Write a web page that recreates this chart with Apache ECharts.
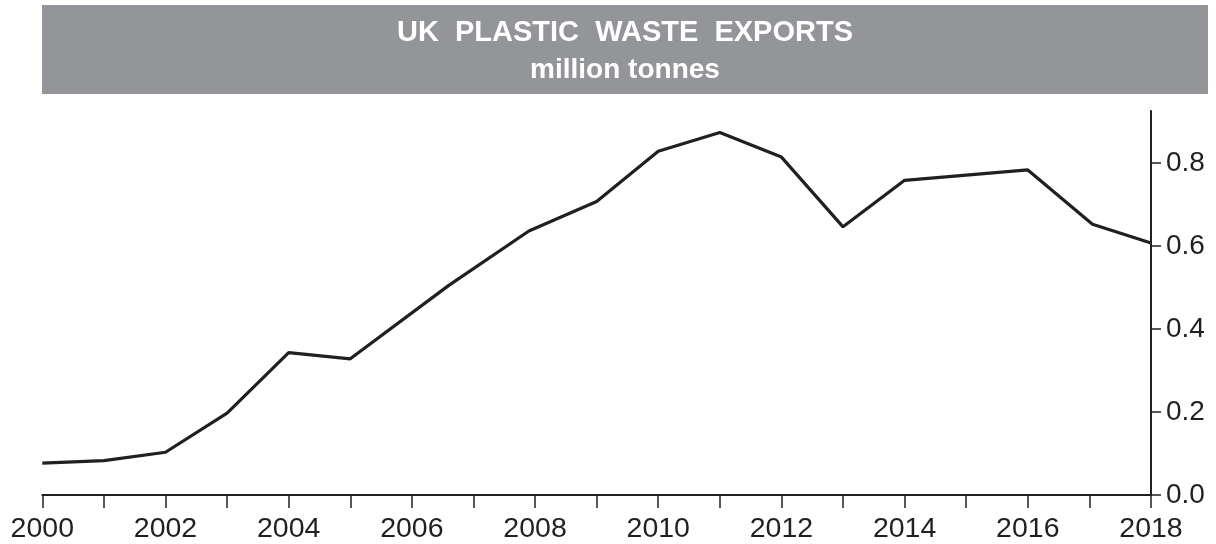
<!DOCTYPE html>
<html>
<head>
<meta charset="utf-8">
<script src="https://cdn.jsdelivr.net/npm/echarts@6/dist/echarts.min.js"></script>
<style>html,body{margin:0;padding:0;background:#fff}#c{width:1216px;height:544px}</style>
</head>
<body>
<div id="c"></div>
<script>
const years = [2000, 2001, 2002, 2003, 2004, 2005, 2006.6, 2007.9, 2009, 2010, 2011, 2012, 2013, 2014, 2016, 2017.05, 2018];
const exports = [0.077, 0.083, 0.103, 0.197, 0.343, 0.328, 0.505, 0.636, 0.707, 0.828, 0.873, 0.814, 0.646, 0.758, 0.783, 0.652, 0.607];
const xTicks = [2000,2001,2002,2003,2004,2005,2006,2007,2008,2009,2010,2011,2012,2013,2014,2015,2016,2017,2018];
const xLabels = [2000,2002,2004,2006,2008,2010,2012,2014,2016,2018];
const yTicks = [0, 0.2, 0.4, 0.6, 0.8];
const titleText = 'UK  PLASTIC  WASTE  EXPORTS';
const subText = 'million tonnes';

const ink = '#231f20';
const chart = echarts.init(document.getElementById('c'));
chart.setOption({
  animation: false,
  graphic: [
    { type: 'rect', left: 42, top: 5, shape: { width: 1166, height: 89 }, style: { fill: '#939598' }, silent: true },
    { type: 'text', x: 625, y: 33, style: { text: titleText, fill: '#fff', font: 'bold 29px "Liberation Sans", Arial, sans-serif', align: 'center', verticalAlign: 'middle' } },
    { type: 'text', x: 625, y: 70, style: { text: subText, fill: '#fff', font: 'bold 28px "Liberation Sans", Arial, sans-serif', align: 'center', verticalAlign: 'middle' } }
  ],
  grid: { left: 42.3, right: 65, top: 111, bottom: 48.5, containLabel: false },
  xAxis: {
    type: 'value', min: 2000, max: 2018,
    axisLine: { show: true, lineStyle: { color: ink, width: 2 } },
    axisTick: { show: true, customValues: xTicks, length: 13, lineStyle: { color: ink, width: 1.5 } },
    axisLabel: { customValues: xLabels, fontSize: 28.5, color: ink, margin: 20, fontFamily: '"Liberation Sans", Arial, sans-serif', formatter: v => String(v) },
    splitLine: { show: false }
  },
  yAxis: {
    type: 'value', position: 'right', min: 0, max: 0.925,
    axisLine: { show: true, onZero: false, lineStyle: { color: ink, width: 2 } },
    axisTick: { show: true, customValues: yTicks, length: 10, lineStyle: { color: ink, width: 1.5 } },
    axisLabel: { customValues: yTicks, fontSize: 28, color: ink, margin: 15, fontFamily: '"Liberation Sans", Arial, sans-serif', formatter: v => v.toFixed(1) },
    splitLine: { show: false }
  },
  series: [{
    type: 'line',
    data: years.map((y, i) => [y, exports[i]]),
    symbol: 'none',
    lineStyle: { color: ink, width: 3.2 },
    z: 3
  }]
});
</script>
</body>
</html>
